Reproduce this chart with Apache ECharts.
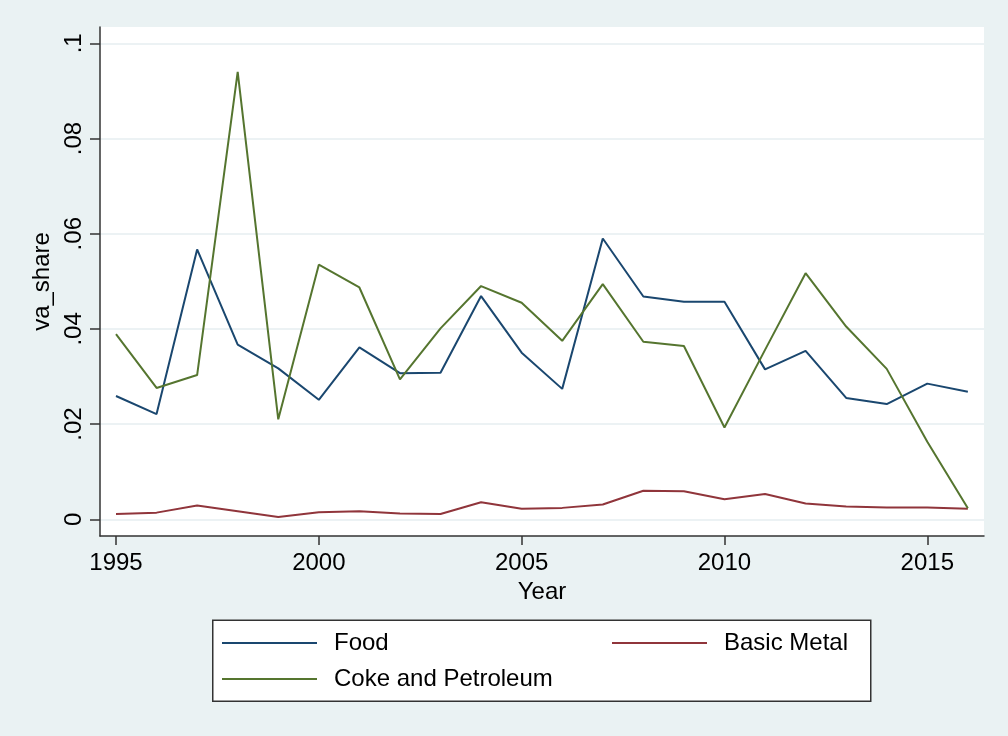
<!DOCTYPE html>
<html>
<head>
<meta charset="utf-8">
<script src="https://cdn.jsdelivr.net/npm/echarts@6/dist/echarts.min.js"></script>
<style>
html,body{margin:0;padding:0;background:#eaf2f3;}
#chart{width:1008px;height:736px;}
</style>
</head>
<body>
<div id="chart"></div>
<script>
var years = [1995,1996,1997,1998,1999,2000,2001,2002,2003,2004,2005,2006,2007,2008,2009,2010,2011,2012,2013,2014,2015,2016];
var food = [0.0259,0.0221,0.0567,0.0367,0.0317,0.0251,0.0361,0.0307,0.0308,0.0469,0.0350,0.0274,0.0590,0.0468,0.0457,0.0457,0.0315,0.0354,0.0255,0.0242,0.0285,0.0268];
var basicMetal = [0.0011,0.0014,0.0029,0.0017,0.0005,0.0015,0.0017,0.0012,0.0011,0.0036,0.0022,0.0024,0.0031,0.0060,0.0059,0.0042,0.0053,0.0033,0.0027,0.0025,0.0025,0.0022];
var coke = [0.0389,0.0276,0.0303,0.0940,0.0210,0.0535,0.0487,0.0294,0.0401,0.0490,0.0455,0.0375,0.0494,0.0373,0.0364,0.0193,0.0356,0.0517,0.0405,0.0316,0.0163,0.0023];
var yTicks = [0,0.02,0.04,0.06,0.08,0.1];
var xTicks = [1995,2000,2005,2010,2015];

var FONT = 'Liberation Sans, Arial, sans-serif';
var COLORS = {food:'#1a476f', metal:'#90353b', coke:'#55752f'};

function pairs(arr){ return years.map(function(y,i){ return [y, arr[i]]; }); }

var chart = echarts.init(document.getElementById('chart'), null, {renderer:'canvas'});
chart.setOption({
  backgroundColor:'#eaf2f3',
  animation:false,
  grid:{left:100,right:24,top:27,bottom:200,show:true,backgroundColor:'#ffffff',borderWidth:0,containLabel:false},
  xAxis:{
    type:'value', min:1994.6056, max:2016.398,
    name:'Year', nameLocation:'middle', nameGap:44,
    nameTextStyle:{fontFamily:FONT,fontSize:24,color:'#000'},
    axisLine:{show:true,onZero:false,lineStyle:{color:'#333',width:1.5}},
    axisTick:{show:true,length:9,customValues:xTicks,lineStyle:{color:'#333',width:1.5}},
    axisLabel:{customValues:xTicks,fontFamily:FONT,fontSize:24,color:'#000',margin:15,formatter:function(v){return String(v);}},
    splitLine:{show:false}
  },
  yAxis:{
    type:'value', min:-0.003508, max:0.103424,
    name:'va_share', nameLocation:'middle', nameGap:41, nameRotate:90,
    nameTextStyle:{fontFamily:FONT,fontSize:24,color:'#000'},
    axisLine:{show:true,onZero:false,lineStyle:{color:'#333',width:1.5}},
    axisTick:{show:true,length:10,customValues:yTicks,lineStyle:{color:'#333',width:1.5}},
    axisLabel:{customValues:yTicks,rotate:90,fontFamily:FONT,fontSize:24,color:'#000',margin:14,
      formatter:function(v){ if(Math.abs(v)<1e-9) return '0'; return String(Math.round(v*100)/100).replace(/^0\./,'.'); }},
    splitLine:{show:true,lineStyle:{color:'#e6eef0',width:1.5}}
  },
  legend:[
    {data:['Food'],left:222,top:631,padding:0,icon:'rect',itemWidth:95,itemHeight:2,
     textStyle:{fontFamily:FONT,fontSize:24,color:'#000',padding:[0,0,0,12]}},
    {data:['Basic Metal'],left:612,top:631,padding:0,icon:'rect',itemWidth:95,itemHeight:2,
     textStyle:{fontFamily:FONT,fontSize:24,color:'#000',padding:[0,0,0,12]}},
    {data:['Coke and Petroleum'],left:222,top:667,padding:0,icon:'rect',itemWidth:95,itemHeight:2,
     textStyle:{fontFamily:FONT,fontSize:24,color:'#000',padding:[0,0,0,12]}}
  ],
  graphic:[
    {type:'rect',z:-1,left:212,top:619.5,shape:{x:0,y:0,width:658,height:81},
     style:{fill:'#ffffff',stroke:'#333',lineWidth:1.5}}
  ],
  series:[
    {name:'Food',type:'line',data:pairs(food),symbol:'none',lineStyle:{color:COLORS.food,width:2},itemStyle:{color:COLORS.food}},
    {name:'Basic Metal',type:'line',data:pairs(basicMetal),symbol:'none',lineStyle:{color:COLORS.metal,width:2},itemStyle:{color:COLORS.metal}},
    {name:'Coke and Petroleum',type:'line',data:pairs(coke),symbol:'none',lineStyle:{color:COLORS.coke,width:2},itemStyle:{color:COLORS.coke}}
  ]
});
</script>
</body>
</html>
